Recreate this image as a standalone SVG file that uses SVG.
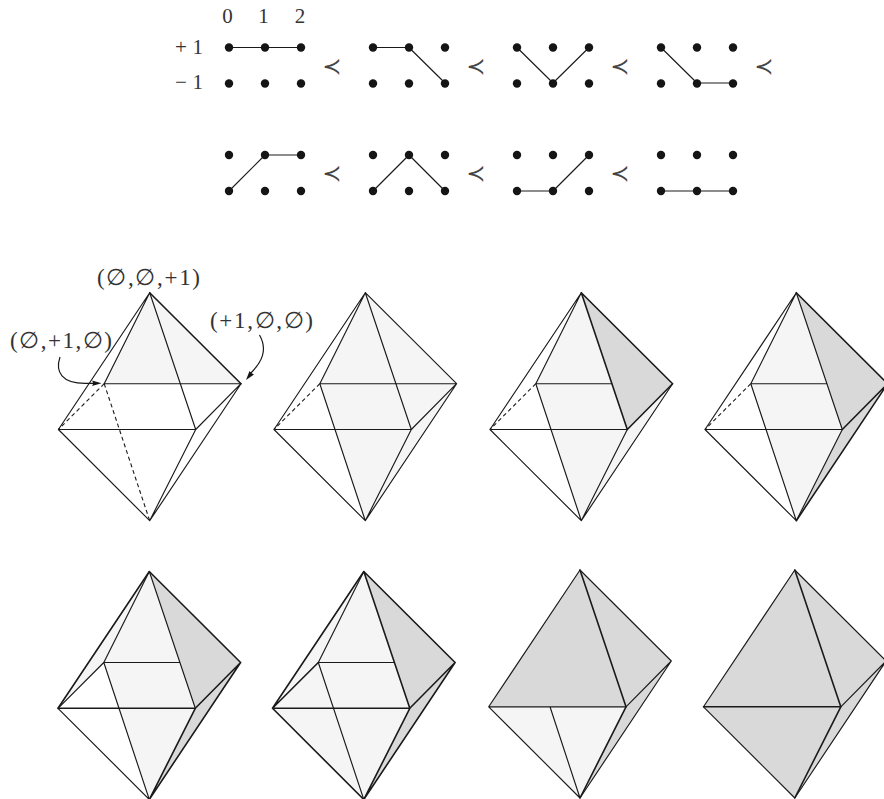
<svg xmlns="http://www.w3.org/2000/svg" width="884" height="799" viewBox="0 0 884 799">
<style>
text{font-family:"Liberation Serif","DejaVu Serif",serif;fill:#333}
.n{font-size:21px;text-anchor:middle}
.lab{font-size:23px}
.pr{font-family:"DejaVu Sans",sans-serif;font-size:23px;text-anchor:middle;fill:#444}
.e{stroke:#1a1a1a;stroke-width:1.15;fill:none;stroke-linejoin:round;stroke-linecap:round}
.h{stroke:#1a1a1a;stroke-width:1.6;fill:none;stroke-linecap:round}
.da{stroke:#1a1a1a;stroke-width:1.1;fill:none;stroke-dasharray:4 3}
.lf{fill:#f5f5f5}
.df{fill:#d9d9d9}
.pt{fill:#151515}
.c{stroke:#1a1a1a;stroke-width:1.2;fill:none}
</style>
<defs>
<g id="d6"><circle class="pt" cx="0" cy="0" r="4.2"/><circle class="pt" cx="36" cy="0" r="4.2"/><circle class="pt" cx="72" cy="0" r="4.2"/><circle class="pt" cx="0" cy="36" r="4.2"/><circle class="pt" cx="36" cy="36" r="4.2"/><circle class="pt" cx="72" cy="36" r="4.2"/></g>
</defs>

<g id="col-labels">
<text class="n" x="227.5" y="23">0</text><text class="n" x="263.5" y="23">1</text><text class="n" x="300" y="23">2</text>
<text class="n" x="189" y="54" textLength="28" lengthAdjust="spacing">+1</text><text class="n" x="189" y="89" textLength="28" lengthAdjust="spacing">−1</text>
</g>

<g id="paths" class="e">
<path d="M229 47.5H301"/>
<path d="M373 47.5H409L445 83"/>
<path d="M517 47.5L553 83L589 47.5"/>
<path d="M661 47.5L697 83H733"/>
<path d="M229 191L265 155H301"/>
<path d="M373 191L409 155L445 191"/>
<path d="M517 191H553L589 155"/>
<path d="M661 191H733"/>
</g>
<g id="dots">
<use href="#d6" x="229" y="47.5"/><use href="#d6" x="373" y="47.5"/><use href="#d6" x="517" y="47.5"/><use href="#d6" x="661" y="47.5"/>
<use href="#d6" x="229" y="155"/><use href="#d6" x="373" y="155"/><use href="#d6" x="517" y="155"/><use href="#d6" x="661" y="155"/>
</g>
<g id="prec">
<text class="pr" x="332" y="74">≺</text><text class="pr" x="476" y="74">≺</text><text class="pr" x="620" y="74">≺</text><text class="pr" x="764" y="74">≺</text>
<text class="pr" x="332" y="181">≺</text><text class="pr" x="476" y="181">≺</text><text class="pr" x="620" y="181">≺</text>
</g>

<g id="poly-1" transform="translate(149.7 292.7)">
<path class="lf" d="M0 0L91.3 91H-45.5Z"/>
<path class="e" d="M0 0L-91.3 136.8M0 0L-45.5 91M0 0L46 136.8M-45.5 91H91.3M-91.3 136.8H46M46 136.8L91.3 91M46 136.8L0 228M91.3 91L0 228M-91.3 136.8L0 228"/>
<path class="h" d="M0 0L91.3 91"/>
<path class="da" d="M-45.5 91L-91.3 136.8M-45.5 91L0 228"/>
</g>
<g id="poly-2" transform="translate(365.3 292.7)">
<path class="lf" d="M0 0L91.3 91L0 228L-45.5 91Z"/>
<path class="e" d="M0 0L-91.3 136.8M0 0L-45.5 91M0 0L46 136.8M-45.5 91H91.3M-91.3 136.8H46M46 136.8L91.3 91M46 136.8L0 228M91.3 91L0 228M-91.3 136.8L0 228M-45.5 91L0 228M0 0L91.3 91"/>
<path class="da" d="M-45.5 91L-91.3 136.8"/>
</g>
<g id="poly-3" transform="translate(581.3 292.7)">
<path class="lf" d="M0 0L46 136.8L91.3 91L0 228L-45.5 91Z"/>
<path class="df" d="M0 0L91.3 91L46 136.8Z"/>
<path class="e" d="M0 0L-91.3 136.8M0 0L-45.5 91M-45.5 91H30.5M-91.3 136.8H46M46 136.8L0 228M91.3 91L0 228M-91.3 136.8L0 228M-45.5 91L0 228"/>
<path class="h" d="M0 0L46 136.8M0 0L91.3 91M46 136.8L91.3 91"/>
<path class="da" d="M-45.5 91L-91.3 136.8"/>
</g>
<g id="poly-4" transform="translate(796.3 292.7)">
<path class="lf" d="M0 0L46 136.8L0 228L-45.5 91Z"/>
<path class="df" d="M0 0L91.3 91L0 228L46 136.8Z"/>
<path class="e" d="M0 0L-91.3 136.8M0 0L-45.5 91M-45.5 91H30.5M-91.3 136.8H46M46 136.8L0 228M-91.3 136.8L0 228M-45.5 91L0 228M0 0L46 136.8"/>
<path class="h" d="M0 0L91.3 91M46 136.8L91.3 91M91.3 91L0 228"/>
<path class="da" d="M-45.5 91L-91.3 136.8"/>
</g>

<g id="poly-5" transform="translate(149.3 571.5)">
<path class="lf" d="M0 0L46 136.8L0 228L-45.5 91L-91.3 136.8Z"/>
<path class="df" d="M0 0L91.3 91L0 228L46 136.8Z"/>
<path class="e" d="M0 0L-45.5 91M-45.5 91L-91.3 136.8M-45.5 91H30.5M-91.3 136.8L0 228M-45.5 91L0 228M0 0L46 136.8"/>
<path class="h" d="M0 0L-91.3 136.8M-91.3 136.8H46M46 136.8L0 228M0 0L91.3 91M46 136.8L91.3 91M91.3 91L0 228"/>
</g>
<g id="poly-6" transform="translate(363.8 571.5)">
<path class="lf" d="M0 0L46 136.8L0 228L-91.3 136.8Z"/>
<path class="df" d="M0 0L91.3 91L0 228L46 136.8Z"/>
<path class="e" d="M0 0L-45.5 91M-45.5 91H30.5M-45.5 91L0 228"/>
<path class="h" d="M0 0L-91.3 136.8M-45.5 91L-91.3 136.8M-91.3 136.8H46M46 136.8L0 228M-91.3 136.8L0 228M0 0L46 136.8M0 0L91.3 91M46 136.8L91.3 91M91.3 91L0 228"/>
</g>
<g id="poly-7" transform="translate(580 570)">
<path class="lf" d="M-91.3 136.8H46L0 228Z"/>
<path class="df" d="M0 0L91.3 91L0 228L46 136.8H-91.3Z"/>
<path class="e" d="M0 0L-91.3 136.8M-91.3 136.8H46M-30 136.8L0 228M-91.3 136.8L0 228M0 0L91.3 91M46 136.8L91.3 91M91.3 91L0 228"/>
<path class="h" d="M0 0L46 136.8M46 136.8L0 228"/>
</g>
<g id="poly-8" transform="translate(794.8 570)">
<path class="df" d="M0 0L91.3 91L0 228L-91.3 136.8Z"/>
<path class="e" d="M0 0L-91.3 136.8M-91.3 136.8L0 228M0 0L91.3 91M46 136.8L91.3 91M91.3 91L0 228"/>
<path class="h" d="M-91.3 136.8H46M0 0L46 136.8M46 136.8L0 228"/>
</g>

<g id="labels">
<text class="lab" x="97" y="285" textLength="103" lengthAdjust="spacing">(∅,∅,+1)</text>
<text class="lab" x="210" y="328" textLength="103" lengthAdjust="spacing">(+1,∅,∅)</text>
<text class="lab" x="10" y="348" textLength="102" lengthAdjust="spacing">(∅,+1,∅)</text>
</g>
<g id="connectors">
<path class="c" d="M60 357C55 372 62 383.3 85 383.3H94"/>
<path class="pt" d="M101.5 383.3L92 380.5Q94 383.3 92 386Z"/>
<path class="c" d="M259.5 335C268 350 262 362 250 374"/>
<path class="pt" d="M246 380L249.5 371Q251 373.5 254 374.5Z"/>
</g>
</svg>
